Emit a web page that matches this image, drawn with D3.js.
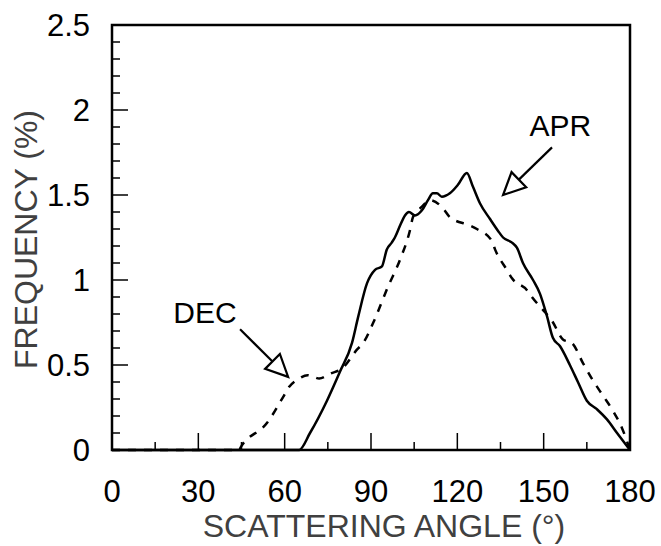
<!DOCTYPE html>
<html>
<head>
<meta charset="utf-8">
<script src="https://cdn.jsdelivr.net/npm/d3@7"></script>
<style>
  html, body { margin: 0; padding: 0; background: #fff; }
  svg { display: block; font-family: "Liberation Sans", Arial, sans-serif; }
</style>
</head>
<body>
<svg id="chart" width="661" height="546"></svg>
<script>
// Scattering-angle frequency distributions (APR solid, DEC dashed)
const aprAngle = [0, 65, 68.8, 74.7, 79.2, 83.4, 85.5, 88.6, 91.4, 93.8, 95.5, 97.2, 98.3, 100.1, 101.8, 103.2, 105.3, 107.7, 109.8, 111.5, 112.9, 114.6, 117.4, 120.2, 123.3, 125.4, 127.9, 131.3, 134.1, 135.9, 139, 140.7, 142.8, 146.3, 148.7, 151.1, 153.2, 155.7, 159.1, 161.9, 165, 168.5, 172, 175.5, 180];
const aprFreq  = [0, 0, 0.10, 0.29, 0.46, 0.63, 0.78, 0.98, 1.06, 1.08, 1.18, 1.22, 1.25, 1.32, 1.38, 1.40, 1.38, 1.41, 1.47, 1.51, 1.51, 1.49, 1.51, 1.56, 1.63, 1.55, 1.45, 1.36, 1.29, 1.25, 1.22, 1.19, 1.10, 1.00, 0.92, 0.79, 0.66, 0.61, 0.50, 0.40, 0.29, 0.24, 0.18, 0.10, 0];

const decAngle = [0, 44, 45.2, 53.9, 59.4, 61.5, 65, 68, 70, 72, 76, 80, 85.1, 87.3, 90.8, 95.9, 100.1, 103.5, 104.6, 107.6, 110.5, 115.1, 117.4, 124.4, 126.8, 132, 133.1, 137.2, 139, 144.2, 145.9, 150.5, 152.9, 156.7, 159.8, 163.7, 167.1, 170.6, 174.1, 177.2, 180];
const decFreq  = [0, 0, 0.03, 0.16, 0.31, 0.37, 0.42, 0.44, 0.43, 0.42, 0.45, 0.48, 0.59, 0.63, 0.75, 0.96, 1.12, 1.29, 1.37, 1.43, 1.47, 1.42, 1.37, 1.32, 1.30, 1.23, 1.18, 1.06, 1.01, 0.94, 0.90, 0.81, 0.76, 0.65, 0.63, 0.51, 0.41, 0.32, 0.23, 0.13, 0];

const xTickValues = [0, 30, 60, 90, 120, 150, 180];
const yTickValues = [0, 0.5, 1, 1.5, 2, 2.5];
const yTickLabels = ["0", "0.5", "1", "1.5", "2", "2.5"];

const svg = d3.select("#chart");
const margin = { left: 112, right: 31, top: 25, bottom: 96 };
const W = 661 - margin.left - margin.right;
const H = 546 - margin.top - margin.bottom;

const x = d3.scaleLinear().domain([0, 180]).range([0, W]);
const y = d3.scaleLinear().domain([0, 2.5]).range([H, 0]);

const g = svg.append("g").attr("transform", `translate(${margin.left},${margin.top})`);

// inward ticks: minor every 15° / 0.1, major every 30° / 0.5
const xMinor = d3.range(0, 181, 15);
const yMinor = d3.range(0, 26).map(i => i / 10);

g.append("g").selectAll("line").data(xMinor).join("line")
  .attr("x1", d => x(d)).attr("x2", d => x(d))
  .attr("y1", H).attr("y2", d => H - (d % 30 === 0 ? 17 : 8))
  .attr("stroke", "#000").attr("stroke-width", 1.5);

g.append("g").selectAll("line").data(yMinor).join("line")
  .attr("y1", d => y(d)).attr("y2", d => y(d))
  .attr("x1", 0).attr("x2", (d, i) => (i % 5 === 0 ? 16 : 8))
  .attr("stroke", "#000").attr("stroke-width", 1.5);

// tick labels
g.append("g").selectAll("text").data(xTickValues).join("text")
  .attr("x", d => x(d)).attr("y", H + 52)
  .attr("text-anchor", "middle")
  .attr("font-size", 31).attr("fill", "#000")
  .text(d => d);

g.append("g").selectAll("text").data(yTickValues).join("text")
  .attr("x", -22).attr("y", d => y(d))
  .attr("dy", "0.36em")
  .attr("text-anchor", "end")
  .attr("font-size", 31).attr("fill", "#000")
  .text((d, i) => yTickLabels[i]);

// axis titles
svg.append("text")
  .attr("x", margin.left + W / 2 + 13).attr("y", 537)
  .attr("text-anchor", "middle")
  .attr("font-size", 32).attr("fill", "#404040")
  .text("SCATTERING ANGLE (°)");

svg.append("text")
  .attr("transform", `translate(37,${margin.top + H / 2 + 2}) rotate(-90)`)
  .attr("text-anchor", "middle")
  .attr("font-size", 32).attr("fill", "#404040")
  .text("FREQUENCY (%)");

// series
const line = d3.line().x(d => x(d[0])).y(d => y(d[1])).curve(d3.curveMonotoneX);

g.append("path")
  .datum(decAngle.map((a, i) => [a, decFreq[i]]))
  .attr("d", line)
  .attr("fill", "none").attr("stroke", "#000")
  .attr("stroke-width", 2.5).attr("stroke-dasharray", "8,8");

g.append("path")
  .datum(aprAngle.map((a, i) => [a, aprFreq[i]]))
  .attr("d", line)
  .attr("fill", "none").attr("stroke", "#000")
  .attr("stroke-width", 2.5).attr("stroke-linejoin", "round");

// frame
g.append("rect").attr("x", 0).attr("y", 0).attr("width", W).attr("height", H)
  .attr("fill", "none").attr("stroke", "#000").attr("stroke-width", 2.5);

// annotations: label, arrow start and arrow tip in data units
const notes = [
  { text: "DEC", tx: 32.3, ty: 0.81, from: [44.5, 0.71], to: [61.2, 0.43] },
  { text: "APR", tx: 155.8, ty: 1.91, from: [152.9, 1.78], to: [135.9, 1.50] }
];

notes.forEach(n => {
  g.append("text")
    .attr("x", x(n.tx)).attr("y", y(n.ty)).attr("dy", "0.36em")
    .attr("text-anchor", "middle")
    .attr("font-size", 30).attr("fill", "#000")
    .text(n.text);

  const x0 = x(n.from[0]), y0 = y(n.from[1]);
  const x1 = x(n.to[0]), y1 = y(n.to[1]);
  const dx = x1 - x0, dy = y1 - y0, len = Math.hypot(dx, dy);
  const ux = dx / len, uy = dy / len;
  const headLen = 22, half = 10.5;
  const bx = x1 - ux * headLen, by = y1 - uy * headLen;

  g.append("line")
    .attr("x1", x0).attr("y1", y0).attr("x2", bx).attr("y2", by)
    .attr("stroke", "#000").attr("stroke-width", 2.2);

  g.append("polygon")
    .attr("points", [
      [x1, y1],
      [bx - uy * half, by + ux * half],
      [bx + uy * half, by - ux * half]
    ].map(p => p.join(",")).join(" "))
    .attr("fill", "#fff").attr("stroke", "#000")
    .attr("stroke-width", 2.2).attr("stroke-linejoin", "miter");
});
</script>
</body>
</html>
